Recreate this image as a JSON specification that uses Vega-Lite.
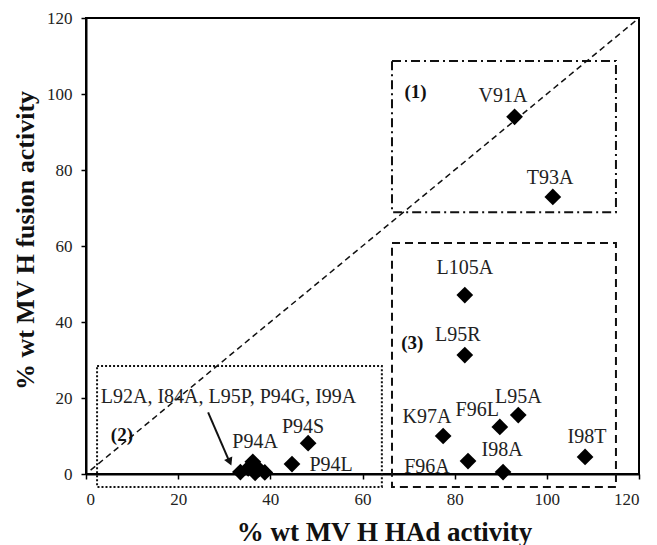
{
  "$schema": "https://vega.github.io/schema/vega-lite/v6.json",
  "autosize": "none",
  "width": 553,
  "height": 456,
  "padding": {"left": 86, "top": 18, "right": 18, "bottom": 71},
  "config": {
    "view": {"stroke": "black", "strokeWidth": 2},
    "font": "Liberation Serif",
    "axis": {
      "grid": false,
      "domainColor": "black",
      "domainWidth": 2,
      "tickColor": "black",
      "tickWidth": 1.5,
      "tickSize": 5,
      "labelFont": "Liberation Serif",
      "labelFontSize": 17,
      "labelColor": "#222",
      "titleFont": "Liberation Serif",
      "titleFontSize": 26,
      "titleFontWeight": "bold",
      "titleColor": "#111"
    }
  },
  "datasets": {
    "points": [
      {"name": "V91A", "x": 93, "y": 94},
      {"name": "T93A", "x": 101.3, "y": 72.9},
      {"name": "L105A", "x": 82.2, "y": 47.1},
      {"name": "L95R", "x": 82.2, "y": 31.3},
      {"name": "L95A", "x": 93.8, "y": 15.5},
      {"name": "F96L", "x": 89.8, "y": 12.4},
      {"name": "K97A", "x": 77.5, "y": 10},
      {"name": "F96A", "x": 82.9, "y": 3.4},
      {"name": "I98A", "x": 90.5, "y": 0.5},
      {"name": "I98T", "x": 108.3, "y": 4.5},
      {"name": "P94S", "x": 48.2, "y": 8.1},
      {"name": "P94L", "x": 44.7, "y": 2.6},
      {"name": "P94A", "x": 36.2, "y": 3.2},
      {"name": "L92A", "x": 33.5, "y": 0.5},
      {"name": "I84A", "x": 35.2, "y": 1.5},
      {"name": "L95P", "x": 36.7, "y": 0.3},
      {"name": "P94G", "x": 37.5, "y": 1.3},
      {"name": "I99A", "x": 38.8, "y": 0.4}
    ],
    "labels": [
      {"text": "V91A", "x": 90.5, "y": 99.5},
      {"text": "T93A", "x": 100.7, "y": 77.9},
      {"text": "L105A", "x": 82.2, "y": 54.2},
      {"text": "L95R", "x": 80.7, "y": 36.6},
      {"text": "L95A", "x": 93.8, "y": 20.3},
      {"text": "F96L", "x": 84.9, "y": 16.8},
      {"text": "K97A", "x": 74, "y": 15},
      {"text": "I98T", "x": 108.7, "y": 9.7},
      {"text": "I98A", "x": 90.3, "y": 6.3},
      {"text": "F96A", "x": 74, "y": 1.8},
      {"text": "P94S", "x": 47.1, "y": 12.4},
      {"text": "P94A", "x": 36.7, "y": 8.4},
      {"text": "P94L", "x": 53.2, "y": 2.4}
    ],
    "regions": [
      {"text": "(1)", "x": 71.5, "y": 100.5},
      {"text": "(2)", "x": 7.8, "y": 10.3},
      {"text": "(3)", "x": 70.8, "y": 34.5}
    ],
    "boxes": [
      {"box": "1", "x": 66.4, "x2": 115, "y": 68.9, "y2": 108.7},
      {"box": "2", "x": 2.4, "x2": 64.2, "y": -3.4, "y2": 28.4},
      {"box": "3", "x": 66.4, "x2": 115, "y": -3.4, "y2": 60.8}
    ],
    "diag": [{"x": 1, "y": 1, "x2": 120, "y2": 120}],
    "arrow": [{"x": 26.5, "y": 16.2, "x2": 31.0, "y2": 3.6}],
    "arrowhead": [{"x": 31.2, "y": 3.2}],
    "cluster": [{"text": "L92A, I84A, L95P, P94G, I99A", "x": 3.2, "y": 20.3}]
  },
  "encoding": {
    "x": {
      "field": "x", "type": "quantitative",
      "scale": {"domain": [0, 120], "nice": false, "zero": false},
      "axis": {"title": "% wt MV H HAd activity", "values": [0, 20, 40, 60, 80, 100, 120], "labelPadding": 12, "titlePadding": 12, "titleFontSize": 27, "titleX": 298}
    },
    "y": {
      "field": "y", "type": "quantitative",
      "scale": {"domain": [0, 120], "nice": false, "zero": false},
      "axis": {"title": "% wt MV H fusion activity", "values": [0, 20, 40, 60, 80, 100, 120], "labelPadding": 9, "titlePadding": 8, "titleY": 222}
    }
  },
  "layer": [
    {
      "data": {"name": "boxes"},
      "transform": [{"filter": "datum.box == '1'"}],
      "mark": {"type": "rect", "fill": null, "fillOpacity": 0, "stroke": "#111", "strokeWidth": 2, "strokeDash": [9, 4, 2, 4], "clip": false},
      "encoding": {"x2": {"field": "x2"}, "y2": {"field": "y2"}}
    },
    {
      "data": {"name": "boxes"},
      "transform": [{"filter": "datum.box == '2'"}],
      "mark": {"type": "rect", "fill": null, "fillOpacity": 0, "stroke": "#111", "strokeWidth": 2, "strokeDash": [2, 2], "clip": false},
      "encoding": {"x2": {"field": "x2"}, "y2": {"field": "y2"}}
    },
    {
      "data": {"name": "boxes"},
      "transform": [{"filter": "datum.box == '3'"}],
      "mark": {"type": "rect", "fill": null, "fillOpacity": 0, "stroke": "#111", "strokeWidth": 2, "strokeDash": [8, 5], "clip": false},
      "encoding": {"x2": {"field": "x2"}, "y2": {"field": "y2"}}
    },
    {
      "data": {"name": "diag"},
      "mark": {"type": "rule", "color": "#111", "strokeWidth": 1.5, "strokeDash": [6, 4]},
      "encoding": {"x2": {"field": "x2"}, "y2": {"field": "y2"}}
    },
    {
      "data": {"name": "arrow"},
      "mark": {"type": "rule", "color": "#111", "strokeWidth": 2},
      "encoding": {"x2": {"field": "x2"}, "y2": {"field": "y2"}}
    },
    {
      "data": {"name": "arrowhead"},
      "mark": {"type": "point", "shape": "triangle-down", "filled": true, "color": "#111", "size": 80, "angle": 336, "opacity": 1}
    },
    {
      "data": {"name": "points"},
      "mark": {"type": "point", "shape": "diamond", "filled": true, "color": "black", "size": 280, "opacity": 1}
    },
    {
      "data": {"name": "labels"},
      "mark": {"type": "text", "font": "Liberation Serif", "fontSize": 20, "color": "#222", "baseline": "middle", "align": "center"},
      "encoding": {"text": {"field": "text"}}
    },
    {
      "data": {"name": "regions"},
      "mark": {"type": "text", "font": "Liberation Serif", "fontSize": 19, "fontWeight": "bold", "color": "#111", "baseline": "middle", "align": "center"},
      "encoding": {"text": {"field": "text"}}
    },
    {
      "data": {"name": "cluster"},
      "mark": {"type": "text", "font": "Liberation Serif", "fontSize": 20, "color": "#222", "baseline": "middle", "align": "left"},
      "encoding": {"text": {"field": "text"}}
    }
  ]
}
